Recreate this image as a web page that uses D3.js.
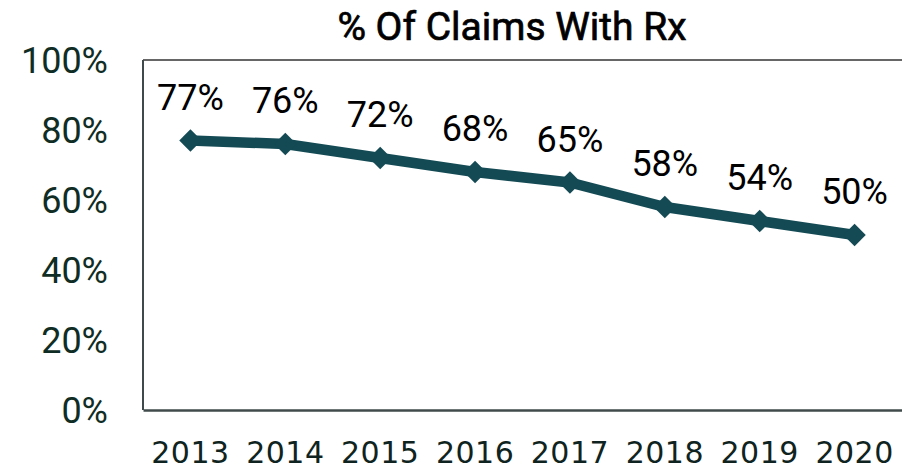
<!DOCTYPE html>
<html>
<head>
<meta charset="utf-8">
<script src="https://cdn.jsdelivr.net/npm/d3@7"></script>
<style>
  body { margin: 0; background: #fff; }
  svg { display: block; }
</style>
</head>
<body>
<div id="chart"></div>
<script>
/* Data */
var years = ["2013", "2014", "2015", "2016", "2017", "2018", "2019", "2020"];
var rxShare = [0.77, 0.76, 0.72, 0.68, 0.65, 0.58, 0.54, 0.50];
var yTicks = [0, 0.2, 0.4, 0.6, 0.8, 1.0];

var width = 902,
    height = 470;
var margin = {top: 60, right: 0, bottom: 60, left: 143};

var svg = d3.select("#chart").append("svg")
    .attr("width", width)
    .attr("height", height);

var x = d3.scaleBand().domain(years).range([margin.left, width - margin.right]);
var y = d3.scaleLinear().domain([0, 1]).range([height - margin.bottom, margin.top]);

// title
svg.append("text")
    .attr("x", 512)
    .attr("y", 40)
    .attr("text-anchor", "middle")
    .style("font-family", "Roboto")
    .style("font-size", "39px")
    .style("fill", "#000")
    .style("stroke", "#000")
    .style("stroke-width", 0.7)
    .text("% Of Claims With Rx");

// plot frame
svg.append("line")
    .attr("x1", margin.left).attr("x2", width)
    .attr("y1", y(1)).attr("y2", y(1))
    .style("stroke", "#333").style("stroke-width", 1.5);
svg.append("line")
    .attr("x1", margin.left).attr("x2", margin.left)
    .attr("y1", y(1)).attr("y2", y(0))
    .style("stroke", "#404a4a").style("stroke-width", 2);

// axes
var yAxis = svg.append("g")
    .attr("transform", "translate(" + margin.left + ",0)")
    .call(d3.axisLeft(y).tickValues(yTicks).tickSize(0).tickPadding(35).tickFormat(d3.format(".0%")));
yAxis.select(".domain").remove();
yAxis.selectAll("text")
    .attr("dy", "0.36em")
    .style("font-family", "Roboto")
    .style("font-size", "36px")
    .style("fill", "#0f2d24");

var xAxis = svg.append("g")
    .attr("transform", "translate(0," + y(0) + ")")
    .call(d3.axisBottom(x).tickSize(0).tickPadding(0));
xAxis.select(".domain")
    .style("stroke", "#404a4a").style("stroke-width", 2.5);
xAxis.selectAll("text")
    .attr("y", 53)
    .attr("dy", 0)
    .style("font-family", "DejaVu Sans")
    .style("font-size", "30px")
    .style("letter-spacing", "0.5px")
    .style("fill", "#0f2420");

// line
var line = d3.line()
    .x(function(d, i) { return x(years[i]) + x.bandwidth() / 2; })
    .y(function(d) { return y(d); });

svg.append("path")
    .datum(rxShare)
    .attr("d", line)
    .style("fill", "none")
    .style("stroke", "#144a54")
    .style("stroke-width", 10.5)
    .style("stroke-linejoin", "round");

var diamond = d3.symbol().type(d3.symbolDiamond2).size(320);
svg.selectAll("path.marker")
    .data(rxShare)
    .enter().append("path")
    .attr("class", "marker")
    .attr("d", diamond)
    .attr("transform", function(d, i) {
        return "translate(" + (x(years[i]) + x.bandwidth() / 2) + "," + y(d) + ")";
    })
    .style("fill", "#144a54");

// value labels
svg.selectAll("text.value")
    .data(rxShare)
    .enter().append("text")
    .attr("class", "value")
    .attr("x", function(d, i) { return x(years[i]) + x.bandwidth() / 2; })
    .attr("y", function(d) { return y(d) - 31; })
    .attr("text-anchor", "middle")
    .style("font-family", "Roboto")
    .style("font-size", "36px")
    .style("fill", "#000")
    .text(function(d) { return Math.round(d * 100) + "%"; });
</script>
</body>
</html>
